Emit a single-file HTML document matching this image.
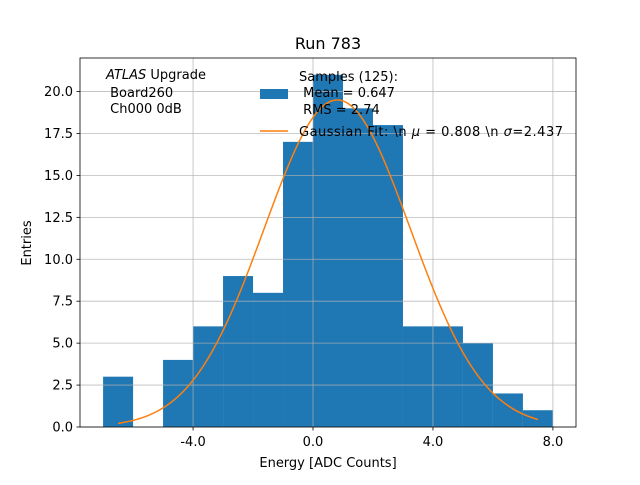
<!DOCTYPE html>
<html><head><meta charset="utf-8"><style>
body{margin:0;background:#fff;font-family:"Liberation Sans","DejaVu Sans",sans-serif}
svg text{font-family:"DejaVu Sans","Liberation Sans",sans-serif}
</style></head><body>
<svg id="c" width="640" height="480"></svg>
<script>
const binEdges=[-7,-6,-5,-4,-3,-2,-1,0,1,2,3,4,5,6,7,8];
const counts=[3,0,4,6,9,8,17,21,19,18,6,6,5,2,1];
const fitMean=0.808, fitSigma=2.437, fitAmp=19.5, fitStart=-6.5, fitEnd=7.5;
const xTicks=[-4,0,4,8];
const xTickLabels=["-4.0","0.0","4.0","8.0"];
const yTicks=[0,2.5,5,7.5,10,12.5,15,17.5,20];
const yTickLabels=["0.0","2.5","5.0","7.5","10.0","12.5","15.0","17.5","20.0"];
const L=80,R=576,T=58,B=427,xmin=-7.77,xmax=8.77,ymin=0,ymax=22;
const sx=v=>L+(v-xmin)/(xmax-xmin)*(R-L);
const sy=v=>B-(v-ymin)/(ymax-ymin)*(B-T);
const svg=document.getElementById('c');const NS='http://www.w3.org/2000/svg';
function mk(t,a,p){const e=document.createElementNS(NS,t);for(const k in a)e.setAttribute(k,a[k]);(p||svg).appendChild(e);return e;}
const bars=mk('g',{});


counts.forEach((c,i)=>{if(!c)return;const x0=sx(binEdges[i]),x1=sx(binEdges[i+1]);
const r=mk('rect',{x:x0,y:sy(c),width:x1-x0,height:sy(0)-sy(c),fill:'#1f77b4'},bars);

});
const grid=mk('g',{stroke:'#b0b0b0','stroke-width':0.8,'stroke-opacity':0.85});


xTicks.forEach(v=>mk('line',{x1:sx(v),x2:sx(v),y1:T,y2:B},grid));
yTicks.forEach(v=>mk('line',{x1:L,x2:R,y1:sy(v),y2:sy(v)},grid));
let d='';for(let i=0;i<=200;i++){const x=fitStart+(fitEnd-fitStart)*i/200;const y=fitAmp*Math.exp(-0.5*((x-fitMean)/fitSigma)**2);d+=(i?'L':'M')+sx(x).toFixed(2)+','+sy(y).toFixed(2);}
const fit=mk('path',{d:d,fill:'none',stroke:'#ff7f0e','stroke-width':1.5});


const frame=mk('rect',{x:L,y:T,width:R-L,height:B-T,fill:'none',stroke:'#000','stroke-width':0.8});


xTicks.forEach((v,i)=>{mk('line',{x1:sx(v),x2:sx(v),y1:B,y2:B+3.5,stroke:'#000','stroke-width':0.8});
const t=mk('text',{x:sx(v),y:B+19,'font-size':13,'text-anchor':'middle'});t.textContent=xTickLabels[i];

});
yTicks.forEach((v,i)=>{mk('line',{x1:L-3.5,x2:L,y1:sy(v),y2:sy(v),stroke:'#000','stroke-width':0.8});
const t=mk('text',{x:L-7,y:sy(v)+4.5,'font-size':13,'text-anchor':'end'});t.textContent=yTickLabels[i];

});
</script>
<svg width="640" height="480" style="position:absolute;left:0;top:0">
<text x="328" y="49" font-size="16" text-anchor="middle">Run 783</text>
<text x="328" y="467" font-size="13" text-anchor="middle">Energy [ADC Counts]</text>
<text transform="translate(31,243) rotate(-90)" font-size="13" text-anchor="middle">Entries</text>
<g font-size="13">
<text x="106" y="79"><tspan font-style="italic">ATLAS</tspan> Upgrade</text>
<text x="106" y="97">&#160;Board260</text>
<text x="106" y="113">&#160;Ch000 0dB</text>
</g>
<g font-size="13">
<rect x="260" y="89" width="28" height="10" fill="#1f77b4"/>
<text x="299" y="81">Samples (125):</text>
<text x="299" y="97">&#160;Mean = 0.647</text>
<text x="299" y="114">&#160;RMS = 2.74</text>
<line x1="260" x2="288" y1="131" y2="131" stroke="#ff7f0e" stroke-width="1.5"/>
<text x="299" y="136" textLength="264" lengthAdjust="spacing">Gaussian Fit: \n <tspan font-style="italic">μ</tspan> = 0.808 \n <tspan font-style="italic">σ</tspan>=2.437</text>
</g>
</svg>
</body></html>
